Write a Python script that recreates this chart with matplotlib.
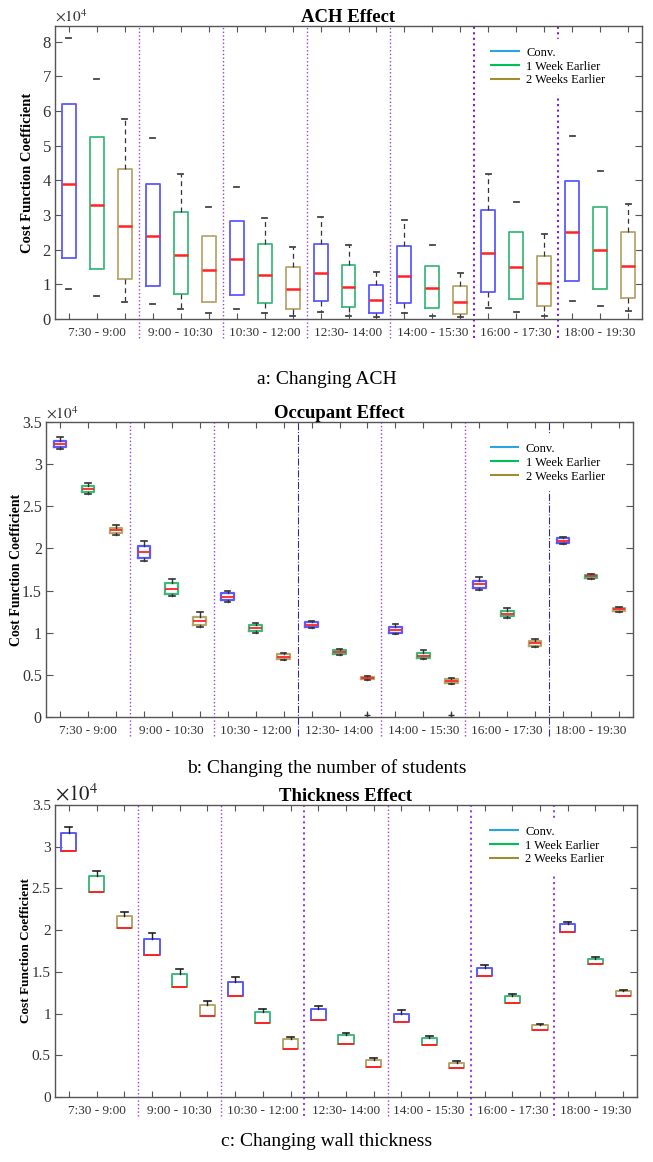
import matplotlib
matplotlib.use("Agg")
import matplotlib.pyplot as plt
from matplotlib.ticker import FuncFormatter
from matplotlib.lines import Line2D

plt.rcParams['font.family'] = ['Liberation Serif', 'DejaVu Serif']
plt.rcParams['mathtext.fontset'] = 'stix'

# ---------------- data (x 1e4) ----------------
slots = ["7:30 - 9:00", "9:00 - 10:30", "10:30 - 12:00", "12:30- 14:00",
         "14:00 - 15:30", "16:00 - 17:30", "18:00 - 19:30"]
series = ["Conv.", "1 Week Earlier", "2 Weeks Earlier"]

# Panel a: ACH effect
a_q1  = [1.76, 1.43, 1.14, 0.95, 0.71, 0.49, 0.69, 0.47, 0.30, 0.53, 0.35, 0.18, 0.47, 0.32, 0.13, 0.77, 0.58, 0.38, 1.10, 0.86, 0.61]
a_med = [3.90, 3.28, 2.67, 2.38, 1.85, 1.40, 1.72, 1.27, 0.87, 1.32, 0.92, 0.55, 1.25, 0.89, 0.50, 1.90, 1.50, 1.05, 2.51, 2.00, 1.54]
a_q3  = [6.20, 5.25, 4.34, 3.90, 3.10, 2.38, 2.84, 2.15, 1.50, 2.17, 1.57, 0.97, 2.10, 1.54, 0.95, 3.13, 2.50, 1.82, 3.99, 3.23, 2.50]
a_lo  = [0.87, 0.66, 0.49, 0.43, 0.30, 0.18, 0.30, 0.18, 0.10, 0.21, 0.10, 0.07, 0.18, 0.10, 0.05, 0.33, 0.21, 0.10, 0.51, 0.37, 0.22]
a_hi  = [8.10, 6.92, 5.78, 5.21, 4.19, 3.22, 3.80, 2.91, 2.07, 2.93, 2.14, 1.36, 2.86, 2.13, 1.33, 4.19, 3.37, 2.46, 5.28, 4.28, 3.33]

# Panel b: occupant effect
b_q1  = [3.20, 2.674, 2.187, 1.886, 1.46, 1.095, 1.383, 1.024, 0.688, 1.071, 0.747, 0.447, 0.996, 0.696, 0.407, 1.53, 1.194, 0.846, 2.06, 1.652, 1.257]
b_med = [3.24, 2.71, 2.215, 1.957, 1.52, 1.134, 1.427, 1.055, 0.715, 1.095, 0.77, 0.458, 1.028, 0.727, 0.427, 1.573, 1.225, 0.877, 2.09, 1.672, 1.277]
b_q3  = [3.28, 2.745, 2.247, 2.03, 1.59, 1.186, 1.47, 1.087, 0.743, 1.122, 0.79, 0.47, 1.067, 0.759, 0.447, 1.617, 1.26, 0.905, 2.12, 1.69, 1.296]
b_lo  = [3.18, 2.645, 2.16, 1.85, 1.44, 1.063, 1.36, 1.00, 0.672, 1.055, 0.735, 0.44, 0.98, 0.684, 0.395, 1.51, 1.174, 0.83, 2.05, 1.64, 1.245]
b_hi  = [3.32, 2.78, 2.28, 2.09, 1.64, 1.24, 1.50, 1.115, 0.763, 1.138, 0.81, 0.486, 1.107, 0.79, 0.462, 1.66, 1.29, 0.93, 2.13, 1.70, 1.304]
b_out = {11: [0.028], 14: [0.028]}

# Panel c: thickness effect (median sits on lower quartile)
c_q1  = [2.95, 2.456, 2.02, 1.706, 1.32, 0.976, 1.21, 0.884, 0.578, 0.928, 0.637, 0.363, 0.90, 0.625, 0.343, 1.45, 1.131, 0.80, 1.98, 1.59, 1.211]
c_q3  = [3.17, 2.65, 2.17, 1.89, 1.48, 1.10, 1.374, 1.016, 0.693, 1.06, 0.741, 0.438, 0.996, 0.705, 0.406, 1.546, 1.21, 0.86, 2.068, 1.653, 1.267]
c_hi  = [3.24, 2.71, 2.22, 1.96, 1.53, 1.147, 1.434, 1.06, 0.725, 1.096, 0.773, 0.47, 1.04, 0.733, 0.426, 1.578, 1.231, 0.876, 2.10, 1.673, 1.283]

# ---------------- style ----------------
W, H = 653, 1162
box_cols = ["#5a5aff", "#3cba7c", "#b6a66c"]
leg_cols = ["#2aa4e2", "#00c058", "#a08c30"]
med_col = "#ff2424"
a_dashed = [0, 0, 1, 0, 1, 0, 0, 1, 1, 1, 1, 1, 1, 0, 1, 1, 0, 1, 0, 0, 1]
a_boxcol = [0, 1, 2] * 7
a_boxcol[11] = 0  # third box of 12:30 drawn in blue in the original

fig = plt.figure(figsize=(W / 100, H / 100), dpi=100)


def make_ax(l, r, t, b):
    return fig.add_axes([l / W, 1 - b / H, (r - l) / W, (b - t) / H])


def decorate(ax, ymax, title, seps, ylab_x, tick_fs, ylab_fs):
    ax.set_xlim(0.5, 21.5)
    ax.set_ylim(0, ymax)
    ax.xaxis.remove_overlapping_locs = False
    ax.set_xticks(range(1, 22))
    ax.set_xticklabels([""] * 21)
    ax.set_xticks([2, 5, 8, 11, 14, 17, 20], labels=slots, minor=True)
    ax.tick_params(axis='x', which='minor', length=0, pad=6, labelsize=9.5, labelcolor="#333333")
    ax.tick_params(axis='x', which='major', direction='in', length=4, top=True, color="#555555")
    ax.tick_params(axis='y', direction='in', length=5, right=True, labelsize=tick_fs,
                   labelcolor="#333333", color="#555555", pad=3)
    ax.yaxis.set_major_formatter(FuncFormatter(lambda v, p: f"{v:g}"))
    for s in ax.spines.values():
        s.set_color("#555555")
        s.set_linewidth(1.0)
    ax.set_title(title, fontsize=13.5, fontweight='bold', pad=3)
    ax.set_ylabel("Cost Function Coefficient", fontsize=ylab_fs, fontweight='bold')
    ax.yaxis.set_label_coords(ylab_x, 0.5)
    for x, col, ls, lw in seps:
        ax.axvline(x, ymin=-0.065, ymax=1, color=col, ls=ls, lw=lw, clip_on=False, zorder=1)


def legend(ax, anchor):
    handles = [Line2D([], [], color=c, lw=1.5) for c in leg_cols]
    lg = ax.legend(handles, series, loc='upper left', bbox_to_anchor=anchor, fontsize=9,
                   frameon=True, facecolor='white', edgecolor='white', framealpha=1,
                   handlelength=2.2, handletextpad=0.6, labelspacing=0.15, borderpad=0.6,
                   borderaxespad=0)
    lg.set_zorder(5)


positions = list(range(1, 22))

# ---------------- panel a ----------------
ax = make_ax(55, 642, 26, 319)
stats = [dict(med=a_med[i], q1=a_q1[i], q3=a_q3[i], whislo=a_lo[i], whishi=a_hi[i], fliers=[])
         for i in range(21)]
art = ax.bxp(stats, positions=positions, widths=0.5, capwidths=0.18, showfliers=False,
             manage_ticks=False)
for i in range(21):
    c = box_cols[a_boxcol[i]]
    art['boxes'][i].set(color=c, lw=1.3)
    art['medians'][i].set(color=med_col, lw=1.8)
    for k in (2 * i, 2 * i + 1):
        art['caps'][k].set(color="#444444", lw=1.3)
        art['whiskers'][k].set(color="#333333", lw=0.9, ls=(0, (4, 3)),
                               visible=bool(a_dashed[i]))
sep_a = [(3.5, "#9a40e0", ':', 1.0), (6.5, "#9a40e0", ':', 1.0), (9.5, "#9a40e0", ':', 1.0),
         (12.5, "#9a40e0", ':', 1.0), (15.5, "#7a20d0", ':', 1.5), (18.5, "#7a20d0", ':', 1.5)]
decorate(ax, 8.45, "ACH Effect", sep_a, -0.036, 12, 10.5)
ax.set_yticks(range(0, 9))
ax.text(0.0, 1.005, r"$\times10^{4}$", transform=ax.transAxes, fontsize=11, ha='left',
        va='bottom', color="#333333")
legend(ax, (0.73, 0.955))
fig.text(0.5, 1 - 380 / H, "a: Changing ACH", ha='center', va='center', fontsize=14)

# ---------------- panel b ----------------
ax = make_ax(46, 633, 422, 717)
stats = [dict(med=b_med[i], q1=b_q1[i], q3=b_q3[i], whislo=b_lo[i], whishi=b_hi[i],
              fliers=b_out.get(i, [])) for i in range(21)]
art = ax.bxp(stats, positions=positions, widths=0.45, capwidths=0.2, showfliers=True,
             manage_ticks=False,
             flierprops=dict(marker='+', markeredgecolor="#333333", markersize=5, linestyle='none'))
for i in range(21):
    c = box_cols[i % 3]
    art['boxes'][i].set(color=c, lw=1.6)
    art['medians'][i].set(color=med_col, lw=1.3)
    for k in (2 * i, 2 * i + 1):
        art['caps'][k].set(color="#333333", lw=1.2)
        art['whiskers'][k].set(color="#333333", lw=1.0)
sep_b = [(3.5, "#9a40e0", ':', 1.0), (6.5, "#9a40e0", ':', 1.0), (9.5, "#402a80", '-.', 0.8),
         (12.5, "#9a40e0", ':', 1.0), (15.5, "#9a40e0", ':', 1.0), (18.5, "#402a80", '-.', 0.8)]
decorate(ax, 3.5, "Occupant Effect", sep_b, -0.04, 11.5, 10)
ax.set_yticks([0, 0.5, 1, 1.5, 2, 2.5, 3, 3.5])
ax.text(0.0, 1.0, r"$\times10^{4}$", transform=ax.transAxes, fontsize=11, ha='left',
        va='bottom', color="#333333")
legend(ax, (0.745, 0.955))
fig.text(0.5, 1 - 768 / H, "b: Changing the number of students", ha='center', va='center',
         fontsize=14)

# ---------------- panel c ----------------
ax = make_ax(55, 637, 805, 1097)
stats = [dict(med=c_q1[i], q1=c_q1[i], q3=c_q3[i], whislo=c_q1[i], whishi=c_hi[i], fliers=[])
         for i in range(21)]
art = ax.bxp(stats, positions=positions, widths=0.55, capwidths=0.25, showfliers=False,
             manage_ticks=False)
for i in range(21):
    c = box_cols[i % 3]
    art['boxes'][i].set(color=c, lw=1.4)
    art['medians'][i].set(color=med_col, lw=1.4)
    art['caps'][2 * i].set(visible=False)
    art['whiskers'][2 * i].set(visible=False)
    art['caps'][2 * i + 1].set(color="#222222", lw=1.2)
    art['whiskers'][2 * i + 1].set(color="#222222", lw=1.0)
sep_c = [(3.5, "#9a40e0", ':', 1.0), (6.5, "#9a40e0", ':', 1.0), (9.5, "#9a40e0", ':', 1.5),
         (12.5, "#9a40e0", ':', 1.0), (15.5, "#9a40e0", ':', 1.5), (18.5, "#9a40e0", ':', 1.5)]
decorate(ax, 3.5, "Thickness Effect", sep_c, -0.04, 11, 9.5)
ax.set_yticks([0, 0.5, 1, 1.5, 2, 2.5, 3, 3.5])
ax.text(0.0, 1.0, r"$\times10^{4}$", transform=ax.transAxes, fontsize=15, ha='left',
        va='bottom', color="#222222")
legend(ax, (0.735, 0.955))
fig.text(0.5, 1 - 1142 / H, "c: Changing wall thickness", ha='center', va='center', fontsize=14)

fig.savefig("out.png", dpi=100)
